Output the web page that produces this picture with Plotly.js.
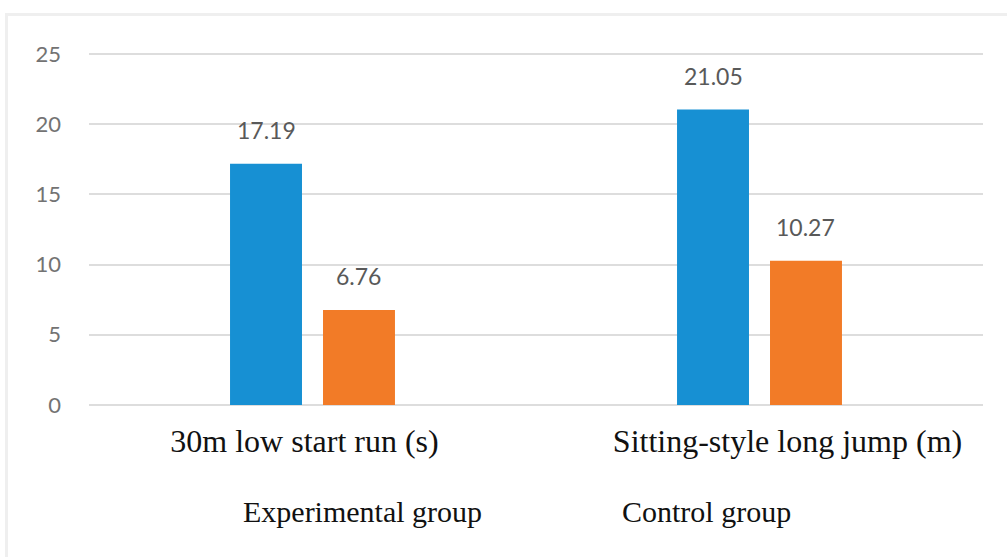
<!DOCTYPE html>
<html>
<head>
<meta charset="utf-8">
<script src="https://cdn.plot.ly/plotly-3.0.1.min.js"></script>
<style>
  html, body { margin: 0; padding: 0; background: #ffffff; }
  #frame { position: absolute; left: 5px; top: 13px; width: 1002px; height: 544px;
           border-top: 3px solid #efefef; border-left: 3px solid #efefef; box-sizing: border-box; }
  #chart { position: absolute; left: 0; top: 0; width: 1007px; height: 557px; }
</style>
</head>
<body>
<div id="frame"></div>
<div id="chart"></div>
<script>
const categories = ["30m low start run (s)", "Sitting-style long jump (m)"];
const categoryLabels = ["30m low start run (s)\u00a0\u00a0", "\u00a0\u00a0\u00a0\u00a0\u00a0\u00a0\u00a0Sitting-style long jump (m)"];
const seriesNames = ["Experimental group", "Control group"];
const experimentalValues = [17.19, 21.05];
const controlValues = [6.76, 10.27];
const yTickValues = [0, 5, 10, 15, 20, 25];

const colors = ["#1790d3", "#f27b27"];
const labelFont = { family: "Lato, 'Open Sans', sans-serif", size: 23, color: "#595959" };
const serifFont = "'Liberation Serif', 'Times New Roman', serif";
const bargap = 0.584;
const bargroupgap = 0.226;

function barTrace(name, values, color) {
  return {
    type: "bar",
    name: name,
    x: categories,
    y: values,
    marker: { color: color },
    showlegend: false,
    hoverinfo: "x+y+name"
  };
}

function legendTrace(name) {
  return { type: "scatter", mode: "none", name: name, x: [null], y: [null], showlegend: true, hoverinfo: "skip" };
}

const data = [
  barTrace(seriesNames[0], experimentalValues, colors[0]),
  barTrace(seriesNames[1], controlValues, colors[1]),
  legendTrace(seriesNames[0]),
  legendTrace(seriesNames[1])
];

// value labels: centred over each bar of the group
const slotOffset = (1 - bargap) / 4;
const annotations = [];
[experimentalValues, controlValues].forEach((vals, s) => {
  vals.forEach((v, i) => {
    annotations.push({
      xref: "x", yref: "y",
      x: i + (s === 0 ? -slotOffset : slotOffset),
      y: v,
      text: v.toFixed(2),
      showarrow: false,
      yanchor: "middle",
      yshift: 34,
      font: labelFont
    });
  });
});

const layout = {
  width: 1007,
  height: 557,
  paper_bgcolor: "rgba(0,0,0,0)",
  plot_bgcolor: "rgba(0,0,0,0)",
  margin: { l: 89, r: 24, t: 52, b: 150, autoexpand: false },
  barmode: "group",
  bargap: bargap,
  bargroupgap: bargroupgap,
  xaxis: {
    type: "category",
    range: [-0.5, 1.5],
    tickvals: categories,
    ticktext: categoryLabels,
    showgrid: false,
    zeroline: false,
    showline: false,
    ticks: "",
    ticklabelstandoff: 12,
    tickfont: { family: serifFont, size: 32, color: "#111111" }
  },
  yaxis: {
    range: [-0.15, 25.15],
    tickvals: yTickValues,
    ticktext: yTickValues.map(String),
    showgrid: true,
    gridcolor: "#dddddd",
    gridwidth: 2,
    zeroline: false,
    showline: false,
    ticks: "",
    ticklabelstandoff: 27,
    tickfont: { family: "Lato, 'Open Sans', sans-serif", size: 22, color: "#737373" }
  },
  annotations: annotations,
  showlegend: true,
  legend: {
    orientation: "h",
    x: 0.1275,
    xanchor: "left",
    y: -0.29,
    yanchor: "middle",
    entrywidth: 334,
    entrywidthmode: "pixels",
    itemwidth: 30,
    font: { family: serifFont, size: 30, color: "#111111" },
    bgcolor: "rgba(0,0,0,0)"
  }
};

Plotly.newPlot("chart", data, layout, { displayModeBar: false, staticPlot: true });
</script>
</body>
</html>
